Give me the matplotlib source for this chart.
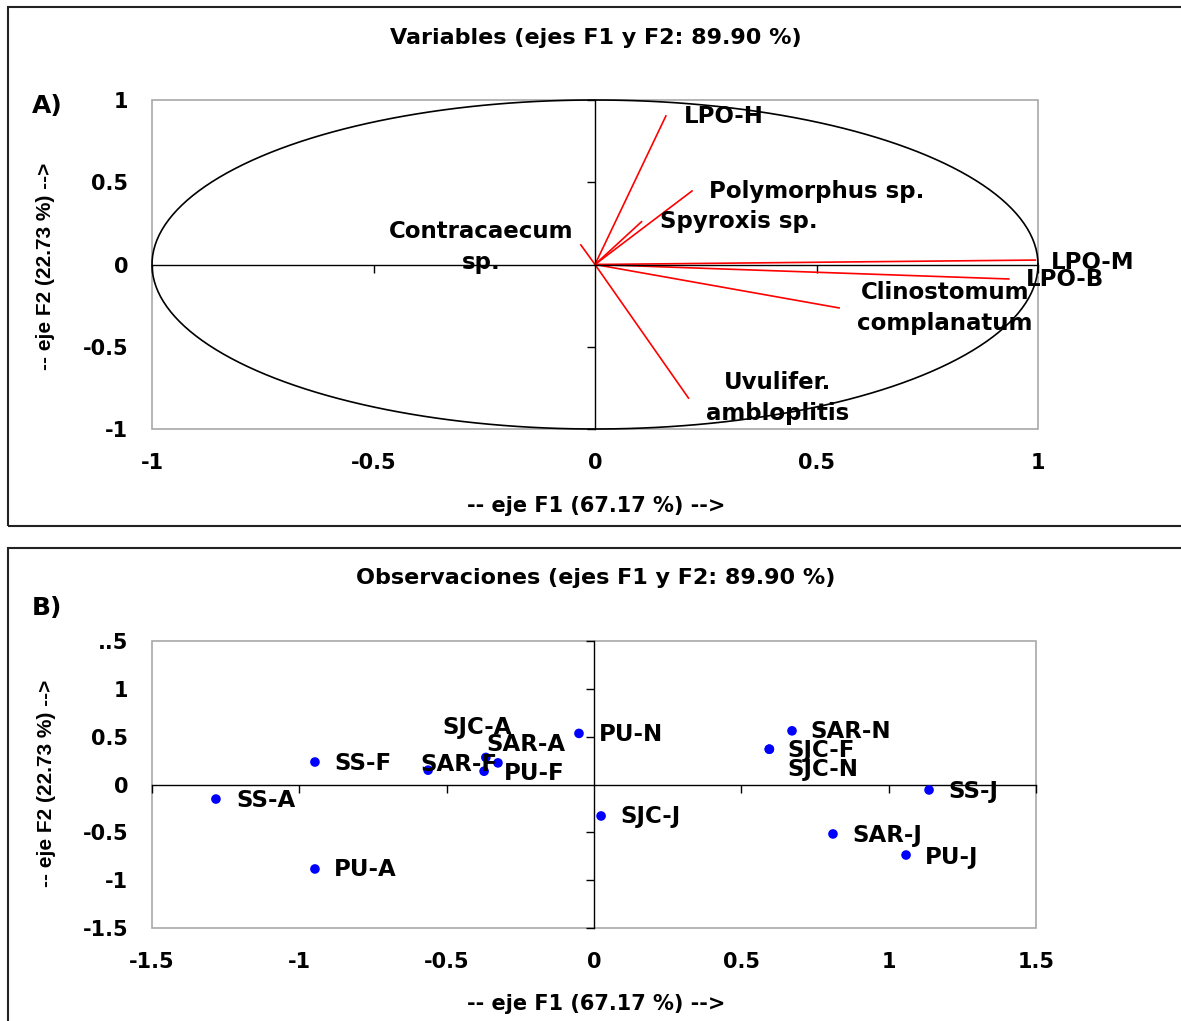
import numpy as np
import matplotlib
matplotlib.use("Agg")
import matplotlib.pyplot as plt
from matplotlib.patches import Rectangle

plt.rcParams['font.family'] = ['DejaVu Sans']
plt.rcParams['font.weight'] = 'bold'

# ---------------- data ----------------
var_names = ["LPO-H", "Polymorphus sp.", "Spyroxis sp.", "Contracaecum\nsp.",
             "LPO-M", "LPO-B", "Clinostomum\ncomplanatum", "Uvulifer.\nambloplitis"]
var_f1 = [0.160, 0.219, 0.105, -0.032, 0.994, 0.934, 0.551, 0.211]
var_f2 = [0.903, 0.447, 0.260, 0.119, 0.027, -0.088, -0.264, -0.812]

obs_names = ["SS-A", "SS-F", "PU-A", "SAR-F", "SJC-A", "SAR-A", "PU-F", "PU-N",
             "SJC-J", "SAR-N", "SJC-F", "SJC-N", "SS-J", "SAR-J", "PU-J"]
obs_f1 = [-1.283, -0.947, -0.947, -0.563, -0.367, -0.326, -0.373, -0.051,
          0.024, 0.672, 0.595, 0.595, 1.137, 0.811, 1.059]
obs_f2 = [-0.152, 0.235, -0.883, 0.150, 0.283, 0.226, 0.139, 0.534,
          -0.329, 0.561, 0.369, 0.369, -0.057, -0.517, -0.737]

a_ticks = [-1, -0.5, 0, 0.5, 1]
a_ticklabels = ["-1", "-0.5", "0", "0.5", "1"]
b_xticks = [-1.5, -1, -0.5, 0, 0.5, 1, 1.5]
b_xticklabels = ["-1.5", "-1", "-0.5", "0", "0.5", "1", "1.5"]
b_yticks = [-1.5, -1, -0.5, 0, 0.5, 1, 1.5]
b_yticklabels = ["-1.5", "-1", "-0.5", "0", "0.5", "1", "..5"]

title_a = "Variables (ejes F1 y F2: 89.90 %)"
title_b = "Observaciones (ejes F1 y F2: 89.90 %)"
xlabel = "-- eje F1 (67.17 %) -->"
ylabel = "-- eje F2 (22.73 %) -->"

# label offsets (pixels) and alignment
var_off = {"LPO-H": (18, -1, 'left'), "Polymorphus sp.": (17, -1, 'left'),
           "Spyroxis sp.": (18, 0, 'left'), "Contracaecum\nsp.": (-100, -2, 'center'),
           "LPO-M": (16, -2, 'left'), "LPO-B": (17, -1, 'left'),
           "Clinostomum\ncomplanatum": (106, 0, 'center'),
           "Uvulifer.\nambloplitis": (89, 0, 'center')}
obs_off = {"SS-A": (20, -1), "SS-F": (19, -1), "PU-A": (19, -1), "SAR-F": (-8, 6),
           "SJC-A": (-43, 30), "SAR-A": (-12, 18), "PU-F": (20, -2), "PU-N": (20, -1),
           "SJC-J": (19, -1), "SAR-N": (18, -1), "SJC-F": (18, -1), "SJC-N": (18, -20),
           "SS-J": (19, -2), "SAR-J": (19, -2), "PU-J": (19, -2)}

W, H = 1181, 1021
DPI = 100
fig = plt.figure(figsize=(W / DPI, H / DPI), dpi=DPI)
PX = 72.0 / DPI  # points per pixel

def fx(px):
    return px / W

def fy(py):
    return 1 - py / H

# panel frames
for (top, bottom) in [(7, 526), (548, 1030)]:
    fig.patches.append(Rectangle((fx(8), fy(bottom)), fx(1400), (bottom - top) / H,
                                 transform=fig.transFigure, fill=False,
                                 edgecolor='#222222', lw=1.5, clip_on=False))

TICKFS = 15
LABFS = 16.5
TITLEFS = 16
XLABFS = 15

def make_axes(left, top, right, bottom, xlim, ylim, xticks, xtl, yticks, ytl):
    pos = [fx(left), fy(bottom), (right - left) / W, (bottom - top) / H]
    ax = fig.add_axes(pos)
    ax.set_xlim(*xlim)
    ax.set_ylim(*ylim)
    ax.patch.set_visible(False)
    for s in ['top', 'right']:
        ax.spines[s].set_visible(False)
    ax.spines['left'].set_position(('data', 0))
    ax.spines['bottom'].set_position(('data', 0))
    ax.spines['left'].set_color('black')
    ax.spines['bottom'].set_color('black')
    ax.spines['left'].set_linewidth(1.0)
    ax.spines['bottom'].set_linewidth(1.0)
    ax.set_xticks([t for t in xticks if t != 0])
    ax.set_yticks([t for t in yticks if t != 0])
    ax.tick_params(direction='out', length=6 * PX * 1.4, width=1.0,
                   labelbottom=False, labelleft=False, color='black')
    # gray box
    ax.add_patch(Rectangle((0, 0), 1, 1, transform=ax.transAxes, fill=False,
                           edgecolor='#a8a8a8', lw=1.2, clip_on=False, zorder=0))
    # labels axes
    axl = fig.add_axes(pos)
    axl.set_xlim(*xlim)
    axl.set_ylim(*ylim)
    axl.patch.set_visible(False)
    for s in axl.spines.values():
        s.set_visible(False)
    axl.set_xticks(xticks)
    axl.set_xticklabels(xtl, fontsize=TICKFS, fontweight='bold')
    axl.set_yticks(yticks)
    axl.set_yticklabels(ytl, fontsize=TICKFS, fontweight='bold')
    axl.tick_params(length=0, pad=17)
    axl.set_zorder(ax.get_zorder() - 1)
    return ax

# ---------------- panel A ----------------
axA = make_axes(152, 100, 1038, 429, (-1, 1), (-1, 1),
                a_ticks, a_ticklabels, a_ticks, a_ticklabels)
t = np.linspace(0, 2 * np.pi, 400)
axA.plot(np.cos(t), np.sin(t), color='black', lw=1.2, clip_on=False)
for name, x, y in zip(var_names, var_f1, var_f2):
    axA.plot([0, x], [0, y], color='red', lw=1.2, clip_on=False)
    dx, dy, ha = var_off[name]
    axA.annotate(name, (x, y), xytext=(dx * PX, dy * PX), textcoords='offset points',
                 ha=ha, va='center', fontsize=LABFS, fontweight='bold',
                 linespacing=1.4, annotation_clip=False)

fig.text(fx(596), fy(38), title_a, ha='center', va='center', fontsize=TITLEFS, fontweight='bold')
fig.text(fx(32), fy(106), "A)", ha='left', va='center', fontsize=18, fontweight='bold')
fig.text(fx(596), fy(506), xlabel, ha='center', va='center', fontsize=XLABFS, fontweight='bold')
fig.text(fx(46), fy(266), ylabel, ha='center', va='center', rotation=90,
         fontsize=15, fontweight='bold', family=['Liberation Sans', 'DejaVu Sans'])

# ---------------- panel B ----------------
axB = make_axes(152, 641, 1036, 928, (-1.5, 1.5), (-1.5, 1.5),
                b_xticks, b_xticklabels, b_yticks, b_yticklabels)
axB.scatter(obs_f1, obs_f2, s=48, color='#0000ff', zorder=3, clip_on=False,
            edgecolors='none')
for name, x, y in zip(obs_names, obs_f1, obs_f2):
    dx, dy = obs_off[name]
    axB.annotate(name, (x, y), xytext=(dx * PX, dy * PX), textcoords='offset points',
                 ha='left', va='center', fontsize=LABFS, fontweight='bold',
                 annotation_clip=False, zorder=4)

fig.text(fx(596), fy(578), title_b, ha='center', va='center', fontsize=TITLEFS, fontweight='bold')
fig.text(fx(32), fy(608), "B)", ha='left', va='center', fontsize=18, fontweight='bold')
fig.text(fx(596), fy(1004), xlabel, ha='center', va='center', fontsize=XLABFS, fontweight='bold')
fig.text(fx(47), fy(783), ylabel, ha='center', va='center', rotation=90,
         fontsize=15, fontweight='bold', family=['Liberation Sans', 'DejaVu Sans'])

fig.savefig("out.png", dpi=DPI, facecolor='white')
